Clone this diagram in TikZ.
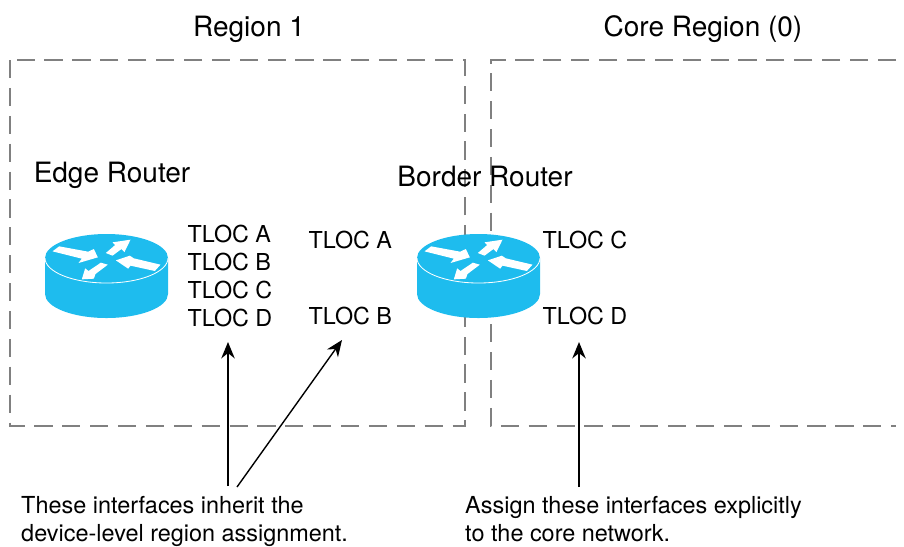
\documentclass[tikz,border=0pt]{standalone}
\usepackage{fontspec}
\setmainfont{TeX Gyre Heros}
\usepackage{tikz}
\usetikzlibrary{arrows.meta,positioning}
\definecolor{routerblue}{RGB}{30,188,238}
\tikzset{
    region/.style={draw=black!50, line width=1.7pt, dash pattern=on 15.5pt off 8.3pt},
    title/.style={font=\fontsize{23.9}{28}\selectfont},
    devname/.style={font=\fontsize{23.9}{28}\selectfont},
    tloc/.style={font=\fontsize{19.9}{24}\selectfont, anchor=west, inner sep=0pt},
    note/.style={font=\fontsize{20}{23.2}\selectfont, align=left, anchor=north west, inner sep=0pt},
    pointer/.style={draw=black, line width=1.2pt, -{Stealth[length=14pt,width=11.5pt]}},
    router/.pic={
        % body
        \fill[routerblue] (-61.5,0) -- (-61.5,36) arc[start angle=180, end angle=0, x radius=61.5, y radius=24]
            -- (61.5,0) arc[start angle=0, end angle=-180, x radius=61.5, y radius=24] -- cycle;
        \draw[white, line width=0.7pt] (-61.5,0) arc[start angle=180, end angle=0, x radius=61.5, y radius=25];
        % arrows on the lid
        \begin{scope}[scale=1/3, fill=white]
            \fill (-162,-20) -- (-142,-35) -- (-55,-19) -- (-38,-27) -- (-26,-2) -- (-84,15) -- (-74,2) -- cycle;
            \fill (-2,-15) -- (26,-39) -- (18,-47) -- (72,-55) -- (54,-18) -- (45,-27) -- (18,-7) -- cycle;
            \fill (162,20) -- (82,1) -- (70,-7) -- (28,7) -- (65,32) -- (72,23) -- (145,39) -- cycle;
            \fill (-17,14) -- (4,20) -- (-33,48) -- (-38,62) -- (-74,64) -- (-64,31) -- (-54,39) -- cycle;
        \end{scope}
    },
}
\begin{document}
\begin{tikzpicture}[x=0.03cm, y=-0.03cm]
    \useasboundingbox (0,0) rectangle (904,546);

    % Regions
    \draw[region] (10,60) rectangle (465,426);
    \draw[region] (896,60) -- (491,60) -- (491,426) -- (896,426);
    \node[title] (region1) at (249,29) {Region 1};
    \node[title] (core) at (703,29) {Core Region (0)};

    % Routers
    \node[devname] (edgeName) at (112,175) {Edge Router};
    \node[devname] (borderName) at (485,176) {Border Router};
    \pic at (106.5,258) {router};
    \pic at (478.5,258) {router};

    % Edge router interfaces
    \node[tloc] (edgeA) at (187.5,234) {TLOC A};
    \node[tloc] (edgeB) at (187.5,262) {TLOC B};
    \node[tloc] (edgeC) at (187.5,290) {TLOC C};
    \node[tloc] (edgeD) at (187.5,318) {TLOC D};

    % Border router interfaces
    \node[tloc] (borderA) at (308.5,240) {TLOC A};
    \node[tloc] (borderB) at (308.5,316) {TLOC B};
    \node[tloc] (borderC) at (542.5,240) {TLOC C};
    \node[tloc] (borderD) at (542.5,316) {TLOC D};

    % Notes
    \node[note] (inheritNote) at (21,496.5) {These interfaces inherit the\\device-level region assignment.};
    \node[note] (coreNote) at (465,496.5) {Assign these interfaces explicitly\\to the core network.};

    % Pointers
    \coordinate (tailA) at (228,486);
    \coordinate (tipA) at (228,342);
    \coordinate (tailB) at (237,487);
    \coordinate (tipB) at (342,340);
    \coordinate (tailC) at (579,487);
    \coordinate (tipC) at (579,342);
    \draw[pointer] (tailA) -- (tipA);
    \draw[pointer] (tailB) -- (tipB);
    \draw[pointer] (tailC) -- (tipC);
\end{tikzpicture}
\end{document}
